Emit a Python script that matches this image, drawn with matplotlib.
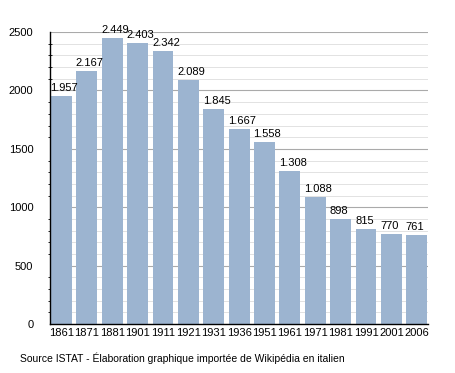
import matplotlib
matplotlib.use('Agg')
import matplotlib.pyplot as plt
from matplotlib.ticker import MultipleLocator

years = ['1861', '1871', '1881', '1901', '1911', '1921', '1931', '1936',
         '1951', '1961', '1971', '1981', '1991', '2001', '2006']
population = [1957, 2167, 2449, 2403, 2342, 2089, 1845, 1667,
              1558, 1308, 1088, 898, 815, 770, 761]

def fmt(v):
    # italian style thousands separator
    return '{:,}'.format(v).replace(',', '.')

plt.rcParams['font.family'] = ['Liberation Sans', 'DejaVu Sans']

fig = plt.figure(figsize=(4.55, 3.73), dpi=100)
ax = fig.add_axes([0.110, 0.131, 0.831, 0.783])

x = list(range(len(years)))
ax.bar(x, population, width=0.82, color='#9cb4d0', zorder=2)
for i, v in enumerate(population):
    ax.text(i - 0.43, v + 25, fmt(v), ha='left', va='bottom', fontsize=8, zorder=3)

ax.set_xlim(-0.45, len(years) - 0.55)
ax.set_ylim(0, 2500)
ax.set_xticks(x)
ax.set_xticklabels(years, fontsize=8)
ax.yaxis.set_major_locator(MultipleLocator(500))
ax.yaxis.set_minor_locator(MultipleLocator(100))
ax.tick_params(axis='y', labelsize=8, length=0, pad=12)
ax.tick_params(axis='y', which='minor', length=3, direction='inout', left=True)
ax.tick_params(axis='x', length=0, pad=3)
ax.grid(axis='y', which='major', color='#aaaaaa', linewidth=0.8, zorder=0)
ax.grid(axis='y', which='minor', color='#dddddd', linewidth=0.6, zorder=0)

for s in ['top', 'right']:
    ax.spines[s].set_visible(False)
ax.spines['left'].set_linewidth(1)
ax.spines['bottom'].set_linewidth(1)

fig.text(0.045, 0.025, 'Source ISTAT - Élaboration graphique importée de Wikipédia en italien',
         fontsize=7.5, ha='left', va='bottom')

fig.savefig('out.png', dpi=100, facecolor='white')
